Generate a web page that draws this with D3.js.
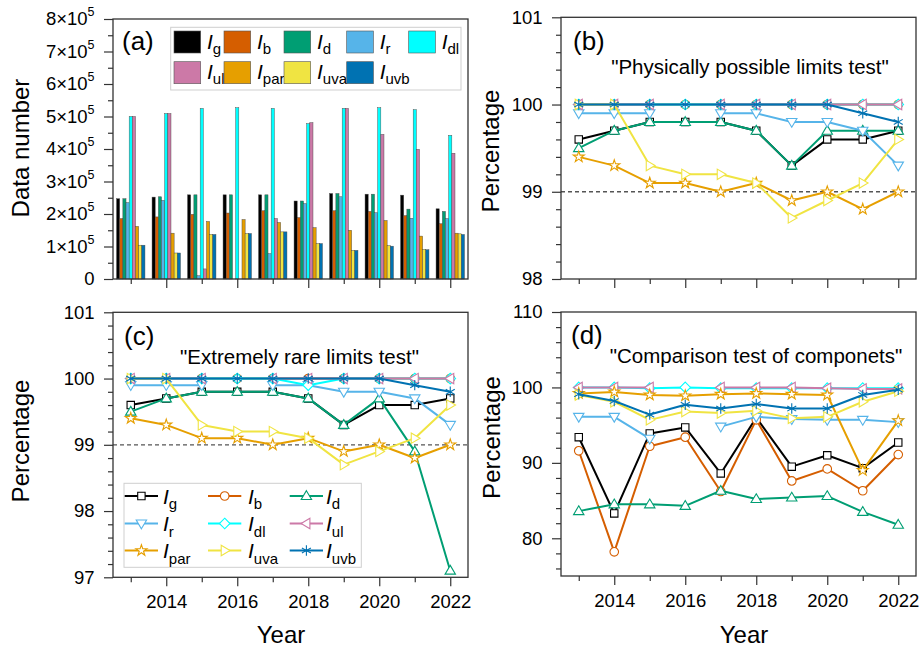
<!DOCTYPE html>
<html><head><meta charset="utf-8">
<script src="https://cdn.jsdelivr.net/npm/d3@7"></script>
<style>body{margin:0;background:#fff} svg{font-family:"Liberation Sans",Arial,sans-serif}</style>
</head><body>
<svg id="chart" width="922" height="650"></svg>
<script>
// ---------------- DATA ----------------
const years = [2013, 2014, 2015, 2016, 2017, 2018, 2019, 2020, 2021, 2022];
const seriesKeys = ["g", "b", "d", "r", "dl", "ul", "par", "uva", "uvb"];
const seriesColors = ["#000000", "#D55E00", "#009E73", "#56B4E9", "#00FFFF", "#CC79A7", "#E69F00", "#F0E442", "#0072B2"];
const seriesMarkers = ["square", "circle", "triUp", "triDown", "diamond", "triLeft", "star", "triRight", "asterisk"];

// (a) data numbers
const countIg   = [247000, 252000, 259000, 259000, 259000, 240000, 263000, 261000, 258000, 216000];
const countIb   = [186000, 191000, 199000, 203000, 210000, 189000, 210000, 208000, 195000, 170000];
const countId   = [247000, 253000, 259000, 259000, 259000, 240000, 263000, 261000, 215000, 208000];
const countIr   = [235000, 242000, 10000, 0, 78000, 232000, 253000, 204000, 187000, 186000];
const countIdl  = [500000, 509000, 525000, 527000, 525000, 478000, 525000, 527000, 521000, 442000];
const countIul  = [500000, 509000, 31000, 0, 186000, 481000, 525000, 445000, 399000, 387000];
const countIpar = [162000, 141000, 177000, 183000, 174000, 158000, 150000, 180000, 132000, 141000];
const countIuva = [104000, 80000, 137000, 140000, 145000, 109000, 88000, 103000, 91000, 139000];
const countIuvb = [104000, 80000, 137000, 140000, 145000, 109000, 88000, 101000, 90000, 137000];
const countTicks = [0, 100000, 200000, 300000, 400000, 500000, 600000, 700000, 800000];

// (b) physically possible limits test (%)
const physIg   = [99.6, 99.7, 99.8, 99.8, 99.8, 99.7, 99.3, 99.6, 99.6, 99.7];
const physIb   = [100, 100, 100, 100, 100, 100, 100, 100, 100, 100];
const physId   = [99.5, 99.7, 99.8, 99.8, 99.8, 99.7, 99.3, 99.7, 99.7, 99.7];
const physIr   = [99.9, 99.9, 99.9, null, 99.9, 99.9, 99.8, 99.8, 99.7, 99.3];
const physIdl  = [100, 100, 100, 100, 100, 100, 100, 100, 100, 100];
const physIul  = [100, 100, 100, null, 100, 100, 100, 100, 100, 100];
const physIpar = [99.4, 99.3, 99.1, 99.1, 99.0, 99.1, 98.9, 99.0, 98.8, 99.0];
const physIuva = [100, 100, 99.3, 99.2, 99.2, 99.1, 98.7, 98.9, 99.1, 99.6];
const physIuvb = [100, 100, 100, 100, 100, 100, 100, 100, 99.9, 99.8];
const physTicks = [98, 99, 100, 101];

// (c) extremely rare limits test (%)
const rareIg   = [99.6, 99.7, 99.8, 99.8, 99.8, 99.7, 99.3, 99.6, 99.6, 99.7];
const rareIb   = [100, 100, 100, 100, 100, 100, 100, 100, 100, 100];
const rareId   = [99.5, 99.7, 99.8, 99.8, 99.8, 99.7, 99.3, 99.7, 98.9, 97.1];
const rareIr   = [99.9, 99.9, 99.9, null, 99.9, 99.9, 99.8, 99.8, 99.7, 99.3];
const rareIdl  = [100, 100, 100, 100, 100, 99.9, 100, 100, 100, 100];
const rareIul  = [100, 100, 100, null, 100, 100, 100, 100, 100, 100];
const rareIpar = [99.4, 99.3, 99.1, 99.1, 99.0, 99.1, 98.9, 99.0, 98.8, 99.0];
const rareIuva = [100, 100, 99.3, 99.2, 99.2, 99.1, 98.7, 98.9, 99.1, 99.6];
const rareIuvb = [100, 100, 100, 100, 100, 100, 100, 100, 99.9, 99.8];
const rareTicks = [97, 98, 99, 100, 101];

// (d) comparison test of components (%)
const compIg   = [93.4, 83.3, 93.9, 94.7, 88.6, 96.0, 89.5, 91.0, 89.3, 92.7];
const compIb   = [91.6, 78.2, 92.2, 93.4, 86.2, 95.7, 87.6, 89.2, 86.3, 91.1];
const compId   = [83.6, 84.5, 84.5, 84.3, 86.3, 85.2, 85.4, 85.6, 83.5, 81.8];
const compIr   = [96.1, 96.1, 93.2, null, 94.8, 96.1, 95.8, 95.7, 95.7, 95.4];
const compIdl  = [100, 100, 99.9, 100, 99.9, 99.9, 99.9, 99.9, 99.9, 99.9];
const compIul  = [100, 100, 100, null, 100, 100, 100, 99.9, 99.8, 99.8];
const compIpar = [99.2, 99.4, 99.0, 98.9, 99.1, 99.2, 99.1, 99.0, 89.0, 95.6];
const compIuva = [99.0, 98.1, 95.7, 96.8, 96.6, 96.9, 95.9, 96.1, 98.1, 99.5];
const compIuvb = [99.1, 98.2, 96.4, 97.7, 97.2, 97.8, 97.2, 97.2, 99.0, 99.7];
const compTicks = [80, 90, 100, 110];

// ---------------- DRAWING ----------------
const svg = d3.select("#chart");
const FRAME = "#333";
const evenYears = years.filter(y => y % 2 === 0);
const oddYears = years.filter(y => y % 2 === 1);

function markerPath(type) {
  switch (type) {
    case "square": return "M-3.7,-3.7H3.7V3.7H-3.7Z";
    case "circle": return d3.symbol(d3.symbolCircle, 58)();
    case "triUp": return "M0,-5.3L5.2,3.5L-5.2,3.5Z";
    case "triDown": return "M0,5.3L5.2,-3.5L-5.2,-3.5Z";
    case "diamond": return "M0,-5.3L5.3,0L0,5.3L-5.3,0Z";
    case "triLeft": return "M-5.3,0L3.5,-5.2L3.5,5.2Z";
    case "triRight": return "M5.3,0L-3.5,-5.2L-3.5,5.2Z";
    case "star": return d3.symbol(d3.symbolStar, 38)();
    case "asterisk": return "M0,-5.2V5.2M-4.5,-2.6L4.5,2.6M-4.5,2.6L4.5,-2.6";
  }
}
function drawMarker(g, type, color, cx, cy) {
  g.append("path").attr("d", markerPath(type))
    .attr("transform", `translate(${cx},${cy})`)
    .attr("fill", type === "asterisk" ? "none" : "#fff")
    .attr("stroke", color).attr("stroke-width", 1.1);
}

function axes(x, y, yMajor, yMinor, xLabels, yFmt) {
  const [x0] = x.range(); const [yb] = y.range();
  const gy = svg.append("g").attr("transform", `translate(${x0},0)`)
    .call(d3.axisLeft(y).tickValues(yMajor).tickSize(9).tickPadding(9.5).tickFormat(yFmt || d3.format("d")));
  const gy2 = svg.append("g").attr("transform", `translate(${x0},0)`)
    .call(d3.axisLeft(y).tickValues(yMinor).tickSize(5).tickFormat(""));
  const gx = svg.append("g").attr("transform", `translate(0,${yb})`)
    .call(d3.axisBottom(x).tickValues(evenYears).tickSize(9).tickPadding(9).tickFormat(xLabels ? d3.format("d") : ""));
  const gx2 = svg.append("g").attr("transform", `translate(0,${yb})`)
    .call(d3.axisBottom(x).tickValues(oddYears).tickSize(5).tickFormat(""));
  [gy, gy2, gx, gx2].forEach(g => {
    g.select(".domain").remove();
    g.selectAll(".tick line").attr("stroke", FRAME).attr("stroke-width", 1.2);
    g.selectAll("text").attr("font-size", "18.5px").attr("fill", "#000")
      .attr("font-family", '"Liberation Sans",Arial,sans-serif');
  });
  return gy;
}
function frame(x, y) {
  const [x0, x1] = x.range(); const [yb, yt] = y.range();
  svg.append("rect").attr("x", x0).attr("y", yt).attr("width", x1 - x0).attr("height", yb - yt)
    .attr("fill", "none").attr("stroke", FRAME).attr("stroke-width", 1.3);
}
function yTitle(text, cx, cy) {
  svg.append("text").attr("transform", `translate(${cx},${cy}) rotate(-90)`)
    .attr("text-anchor", "middle").attr("font-size", "24px").text(text);
}
function panelLabel(text, x, y) {
  svg.append("text").attr("x", x).attr("y", y).attr("font-size", "26px").text(text);
}
function panelTitle(text, cx, y) {
  svg.append("text").attr("x", cx).attr("y", y).attr("text-anchor", "middle")
    .attr("font-size", "20.5px").text(text);
}
function minorBetween(majors, step) {
  const out = [];
  for (let i = 0; i < majors.length - 1; i++) {
    const a = majors[i], b = majors[i + 1];
    for (let v = a + step; v < b - step / 2; v += step) out.push(+v.toFixed(4));
  }
  return out;
}
function iLabel(g, x, y, sub, size, subSize, subDy) {
  const t = g.append("text").attr("x", x).attr("y", y).attr("font-size", size + "px");
  t.append("tspan").attr("font-style", "italic").text("I");
  t.append("tspan").attr("font-size", subSize + "px").attr("dy", subDy).text(sub);
}

// ---------- Panel (a) ----------
const xA = d3.scaleLinear().domain([2012.5, 2022.5]).range([113, 468]);
const yA = d3.scaleLinear().domain([0, 800000]).range([279, 19]);
const xInner = d3.scaleBand().domain(seriesKeys).range([-14.2, 14.2]);
const countSeries = [countIg, countIb, countId, countIr, countIdl, countIul, countIpar, countIuva, countIuvb];
const gBars = svg.append("g");
seriesKeys.forEach((k, si) => {
  gBars.selectAll(null).data(years.map((yr, i) => ({ yr, v: countSeries[si][i] })).filter(d => d.v > 0))
    .join("rect")
    .attr("x", d => xA(d.yr) + xInner(k))
    .attr("y", d => yA(d.v))
    .attr("width", xInner.bandwidth())
    .attr("height", d => yA(0) - yA(d.v))
    .attr("fill", seriesColors[si]).attr("stroke", "#4a4a4a").attr("stroke-width", 0.45);
});
const gyA = axes(xA, yA, countTicks, minorBetween(countTicks, 50000), false, d => d);
gyA.selectAll(".tick text").each(function (d) {
  const t = d3.select(this); t.text(null);
  if (d === 0) { t.text("0"); return; }
  t.append("tspan").text(`${d / 100000}×10`);
  t.append("tspan").attr("font-size", "12.5px").attr("dy", "-0.75em").text("5");
});
frame(xA, yA);
yTitle("Data number", 29, 148);
panelLabel("(a)", 122, 50);
// legend (a)
const legA = svg.append("g");
legA.append("rect").attr("x", 170.7).attr("y", 27.3).attr("width", 290.3).attr("height", 62.7)
  .attr("fill", "#fff").attr("stroke", "#cfcfcf").attr("stroke-width", 1);
const legAcols = [174, 224, 284, 346.7, 408.7];
const legArows = [31, 61.7];
seriesKeys.forEach((k, i) => {
  const c = i < 5 ? i : i - 5, r = i < 5 ? 0 : 1;
  legA.append("rect").attr("x", legAcols[c]).attr("y", legArows[r]).attr("width", 26.7).attr("height", 22)
    .attr("fill", seriesColors[i]).attr("stroke", "#555").attr("stroke-width", 0.6);
  iLabel(legA, legAcols[c] + 33, legArows[r] + 17.5, k, 21, 15, 5);
});

// ---------- line panels ----------
function linePanel(x, y, series, ticks, minor, xLabels) {
  const g = svg.append("g");
  const line = d3.line().defined(d => d.v != null).x(d => x(d.yr)).y(d => y(d.v));
  series.forEach((arr, si) => {
    const pts = years.map((yr, i) => ({ yr, v: arr[i] }));
    g.append("path").attr("d", line(pts)).attr("fill", "none")
      .attr("stroke", seriesColors[si]).attr("stroke-width", 2).attr("stroke-linejoin", "round");
    pts.filter(d => d.v != null).forEach(d => drawMarker(g, seriesMarkers[si], seriesColors[si], x(d.yr), y(d.v)));
  });
  axes(x, y, ticks, minor, xLabels);
  frame(x, y);
}
function dashed99(x, y) {
  svg.append("line").attr("x1", x.range()[0]).attr("x2", x.range()[1])
    .attr("y1", y(99)).attr("y2", y(99))
    .attr("stroke", "#555").attr("stroke-width", 1.3).attr("stroke-dasharray", "4,3");
}

// (b)
const xB = d3.scaleLinear().domain([2012.5, 2022.5]).range([561, 916]);
const yB = d3.scaleLinear().domain([98, 101]).range([279, 17.3]);
dashed99(xB, yB);
linePanel(xB, yB, [physIg, physIb, physId, physIr, physIdl, physIul, physIpar, physIuva, physIuvb],
  physTicks, minorBetween(physTicks, 0.2), false);
yTitle("Percentage", 499, 151);
panelLabel("(b)", 573, 50);
panelTitle("\"Physically possible limits test\"", 750, 74);

// (c)
const xC = d3.scaleLinear().domain([2012.5, 2022.5]).range([113, 468]);
const yC = d3.scaleLinear().domain([97, 101]).range([577.3, 312.3]);
dashed99(xC, yC);
linePanel(xC, yC, [rareIg, rareIb, rareId, rareIr, rareIdl, rareIul, rareIpar, rareIuva, rareIuvb],
  rareTicks, minorBetween(rareTicks, 0.2), true);
yTitle("Percentage", 29, 441);
panelLabel("(c)", 124, 345);
panelTitle("\"Extremely rare limits test\"", 299.5, 364);
svg.append("text").attr("x", 281).attr("y", 643).attr("text-anchor", "middle").attr("font-size", "24px").text("Year");
// legend (c)
const legC = svg.append("g");
legC.append("rect").attr("x", 124).attr("y", 483.3).attr("width", 237.3).attr("height", 84)
  .attr("fill", "#fff").attr("stroke", "#cfcfcf").attr("stroke-width", 1);
const legCcols = [124.7, 208, 289.7];
const legCtext = [163, 248, 326];
const legCrows = [496, 523.5, 550.5];
seriesKeys.forEach((k, i) => {
  const c = i % 3, r = Math.floor(i / 3);
  const cy = legCrows[r];
  legC.append("line").attr("x1", legCcols[c]).attr("x2", legCcols[c] + 33.3).attr("y1", cy).attr("y2", cy)
    .attr("stroke", seriesColors[i]).attr("stroke-width", 2);
  drawMarker(legC, seriesMarkers[i], seriesColors[i], legCcols[c] + 16.7, cy);
  iLabel(legC, legCtext[c], cy + 7.5, k, 21, 15, 5.5);
});

// (d)
const xD = d3.scaleLinear().domain([2012.5, 2022.5]).range([561, 916]);
const yD = d3.scaleLinear().domain([75, 110]).range([576, 312]);
linePanel(xD, yD, [compIg, compIb, compId, compIr, compIdl, compIul, compIpar, compIuva, compIuvb],
  compTicks, [76, 78, 82, 84, 86, 88, 92, 94, 96, 98, 102, 104, 106, 108], true);
yTitle("Percentage", 500, 437.5);
panelLabel("(d)", 571, 344);
panelTitle("\"Comparison test of componets\"", 756, 363);
svg.append("text").attr("x", 744).attr("y", 643).attr("text-anchor", "middle").attr("font-size", "24px").text("Year");
</script>
</body></html>
